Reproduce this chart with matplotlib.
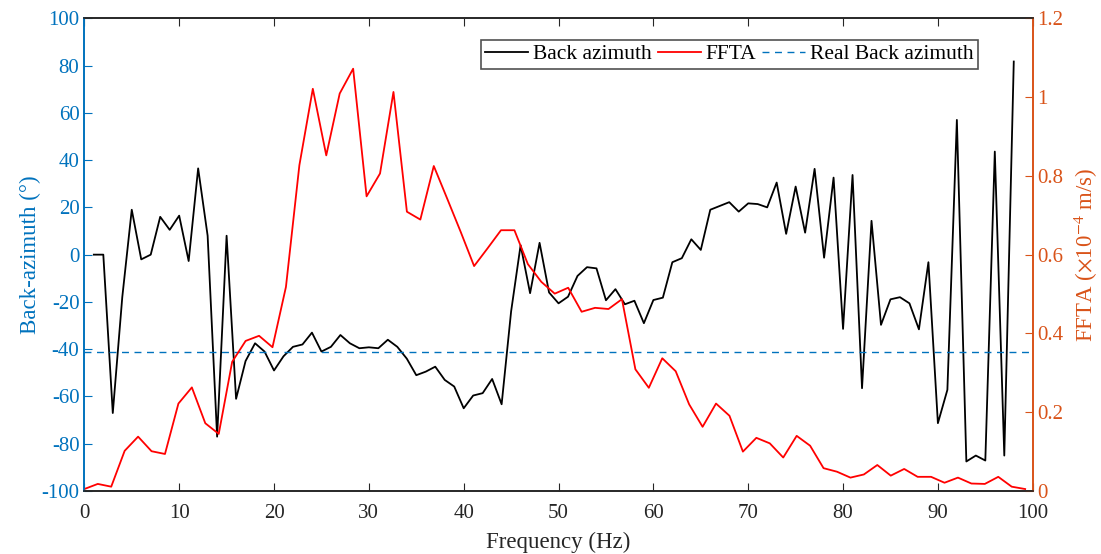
import numpy as np
import matplotlib.pyplot as plt

plt.rcParams['font.family'] = ['Liberation Serif', 'DejaVu Serif']
plt.rcParams['mathtext.fontset'] = 'stix'
plt.rcParams['axes.unicode_minus'] = False

# Данные: азимут по частотам 1..98 Гц
freq_baz = np.arange(1, 99)
back_azimuth = [0, 0, -67, -18, 19, -2, 0, 16, 10.5, 16.5,
                -2.7, 36.5, 8, -77, 8, -61, -45, -37.5, -41, -49,
                -43, -39, -38, -33, -41, -39, -34, -37.5, -39.6, -39.2,
                -39.6, -36, -39, -44, -51, -49.5, -47.4, -53, -55.8, -65,
                -59.6, -58.6, -52.6, -63.3, -24, 4, -16.3, 5, -16, -20.6,
                -17.8, -9, -5.3, -5.8, -19.3, -14.6, -21, -19.5, -29, -19.2,
                -18.2, -3.2, -1.5, 6.5, 2, 19, 20.6, 22.2, 18.2, 21.7,
                21.4, 20, 30.5, 8.8, 28.8, 9.3, 36.3, -1.3, 32.6, -31.4,
                33.7, -56.5, 14.3, -29.7, -18.9, -18, -20.6, -31.6, -3.2, -71.3,
                -57.2, 57, -87.5, -85, -87.1, 43.6, -85, 81.7]

# FFTA, другая сетка частот (71 точка от 0 до ~99.2 Гц)
freq_ffta = np.linspace(0, 99.2, 71)
ffta = [0.005, 0.018, 0.011, 0.102, 0.138, 0.101, 0.094, 0.222, 0.263, 0.172,
        0.145, 0.328, 0.381, 0.394, 0.365, 0.518, 0.827, 1.021, 0.852, 1.009,
        1.072, 0.748, 0.806, 1.013, 0.709, 0.689, 0.825, 0.742, 0.658, 0.571,
        0.616, 0.662, 0.662, 0.576, 0.531, 0.501, 0.516, 0.455, 0.465, 0.462,
        0.487, 0.309, 0.262, 0.337, 0.304, 0.220, 0.163, 0.222, 0.191, 0.100,
        0.135, 0.121, 0.085, 0.140, 0.115, 0.058, 0.049, 0.034, 0.042, 0.066,
        0.039, 0.056, 0.036, 0.036, 0.021, 0.034, 0.019, 0.018, 0.036, 0.011,
        0.005]

real_baz = -41

c_left = '#0072BD'
c_right = '#D95319'

fig = plt.figure(figsize=(11.01, 5.54), dpi=100)
ax = fig.add_axes([0.0766, 0.1137, 0.8614, 0.8533])
ax2 = ax.twinx()

l1, = ax.plot(freq_baz, back_azimuth, color='black', lw=1.3, label='Back azimuth')
l3 = ax.axhline(real_baz, color=c_left, ls='--', lw=1.0, dashes=(5, 4), label='Real Back azimuth')
l2, = ax2.plot(freq_ffta, ffta, color='red', lw=1.3, label='FFTA')

ax.set_xlim(0, 100)
ax.set_ylim(-100, 100)
ax2.set_ylim(0, 1.2)
ax.set_xticks(np.arange(0, 101, 10))
ax.set_yticks(np.arange(-100, 101, 20))
ax2.set_yticks([0, 0.2, 0.4, 0.6, 0.8, 1, 1.2])
ax2.set_yticklabels(['0', '0.2', '0.4', '0.6', '0.8', '1', '1.2'])

ax.tick_params(axis='x', direction='in', top=True, length=6, pad=9, labelsize=15, colors='#262626')
ax.tick_params(axis='y', direction='in', length=6, labelsize=15, colors=c_left)
ax2.tick_params(axis='y', direction='in', length=6, labelsize=15, colors=c_right)

for a in (ax, ax2):
    a.spines['top'].set_color('#262626')
    a.spines['bottom'].set_color('#262626')
    a.spines['left'].set_color(c_left)
    a.spines['right'].set_color(c_right)
    for s in a.spines.values():
        s.set_linewidth(1.2)

ax.set_xlabel('Frequency (Hz)', fontsize=16.5, color='#262626', labelpad=7)
ax.set_ylabel('Back-azimuth (°)', fontsize=16.5, color=c_left, labelpad=0)
ax2.set_ylabel(r'FFTA ($\times$10$^{-4}$ m/s)', fontsize=16.5, color=c_right, labelpad=6)

leg = ax2.legend([l1, l2, l3], ['Back azimuth', 'FFTA', 'Real Back azimuth'],
                 ncol=3, loc='upper right', bbox_to_anchor=(0.942, 0.954),
                 fontsize=15.5, frameon=True, fancybox=False, handlelength=2.0,
                 handletextpad=0.2, columnspacing=0.3, borderpad=0.2,
                 borderaxespad=0)
leg.get_frame().set_edgecolor('#262626')
leg.get_frame().set_linewidth(1.2)

fig.savefig('out.png', dpi=100)
